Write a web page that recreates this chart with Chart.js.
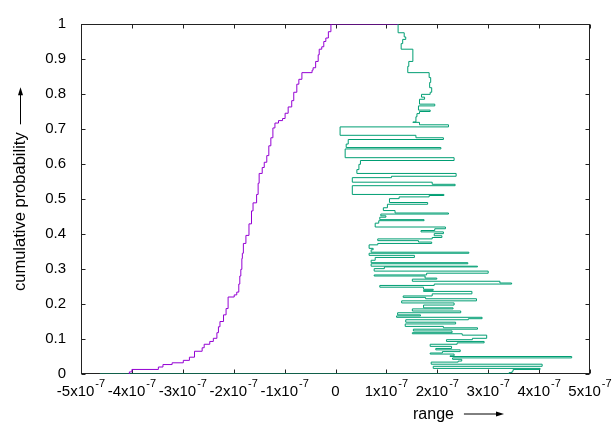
<!DOCTYPE html>
<html>
<head>
<meta charset="utf-8">
<script src="https://cdn.jsdelivr.net/npm/chart.js@4.4.1/dist/chart.umd.min.js"></script>
<style>
  body { margin: 0; background: #fff; }
</style>
</head>
<body>
<canvas id="myChart" width="612" height="428"></canvas>
<script>
// x values are in units of 1e-7
let purpleX = [-4.05, -4.05, -4.00, -3.48, -3.39, -3.21, -2.99, -2.87, -2.77, -2.62, -2.58, -2.47, -2.40, -2.33, -2.30, -2.27,
  -2.20, -2.15, -2.11, -1.99, -1.94, -1.90, -1.88, -1.86, -1.84, -1.83, -1.81, -1.76, -1.70, -1.65, -1.62, -1.55, -1.52,
  -1.50, -1.44, -1.40, -1.35, -1.31, -1.27, -1.23, -1.19, -1.12, -1.04, -0.99, -0.93, -0.86, -0.82, -0.76, -0.72, -0.66,
  -0.46, -0.44, -0.39, -0.34, -0.32, -0.27, -0.23, -0.19, -0.14, -0.09, 1.23];
let purpleY = [0, 0.006, 0.013, 0.020, 0.027, 0.032, 0.039, 0.048, 0.065, 0.075, 0.085, 0.093, 0.102, 0.118, 0.135, 0.150,
  0.169, 0.187, 0.220, 0.226, 0.234, 0.257, 0.280, 0.299, 0.330, 0.345, 0.373, 0.396, 0.429, 0.466, 0.489, 0.513, 0.545,
  0.573, 0.590, 0.605, 0.624, 0.652, 0.675, 0.703, 0.717, 0.724, 0.730, 0.745, 0.763, 0.781, 0.805, 0.828, 0.842, 0.861,
  0.868, 0.875, 0.893, 0.912, 0.928, 0.935, 0.950, 0.960, 0.978, 1.0, 1.0];

let greenX = [-4.63, 3.41, 3.47, 3.49, 4.02, 1.92, 4.06, 1.88, 2.41, 2.48, 2.30, 4.64, 2.25, 2.33, 1.86, 2.10, 2.45, 1.97,
  2.28, 1.86, 2.39, 2.92, 2.18, 2.69, 2.97, 2.49, 1.51, 2.29, 1.53, 2.79, 2.12, 1.37, 2.36, 1.38, 2.61, 2.88, 1.20, 1.67,
  1.22, 2.46, 1.51, 2.31, 1.73, 2.33, 1.30, 2.77, 1.77, 1.33, 1.90, 2.68, 1.73, 1.92, 1.73, 0.87, 1.94, 3.46, 3.23, 1.51,
  1.99, 1.76, 0.76, 1.79, 3.00, 0.76, 0.96, 2.79, 0.70, 2.60, 0.70, 0.78, 1.55, 0.66, 2.62, 0.70, 0.74, 0.66, 0.83, 1.89,
  1.63, 0.83, 1.90, 2.09, 1.94, 2.12, 1.68, 1.95, 2.16, 0.78, 0.85, 1.74, 0.87, 0.99, 0.89, 2.22, 1.17, 0.94, 1.02, 1.81,
  1.06, 1.25, 1.84, 2.13, 0.33, 2.35, 1.90, 0.33, 1.10, 2.37, 0.42, 0.46, 0.49, 2.33, 0.19, 2.07, 0.21, 0.25, 2.12, 1.58,
  0.09, 2.22, 1.65, 1.52, 1.58, 1.60, 1.65, 1.86, 1.63, 1.95, 1.65, 1.75, 1.69, 1.86, 1.89, 1.85, 1.87, 1.84, 1.42, 1.44,
  1.52, 1.29, 1.32, 1.38, 1.35, 1.23];
let greenY = [0, 0.004, 0.008, 0.013, 0.016, 0.022, 0.028, 0.034, 0.037, 0.042, 0.046, 0.050, 0.052, 0.057, 0.060, 0.064,
  0.069, 0.073, 0.079, 0.085, 0.089, 0.093, 0.098, 0.102, 0.111, 0.115, 0.118, 0.123, 0.128, 0.132, 0.136, 0.143, 0.148,
  0.155, 0.158, 0.162, 0.166, 0.169, 0.175, 0.180, 0.186, 0.189, 0.197, 0.203, 0.209, 0.215, 0.219, 0.223, 0.229, 0.236,
  0.239, 0.242, 0.248, 0.253, 0.257, 0.260, 0.265, 0.271, 0.274, 0.280, 0.283, 0.288, 0.294, 0.301, 0.306, 0.308, 0.315,
  0.318, 0.325, 0.333, 0.339, 0.345, 0.348, 0.355, 0.359, 0.369, 0.373, 0.377, 0.381, 0.386, 0.390, 0.395, 0.401, 0.406,
  0.410, 0.415, 0.420, 0.431, 0.438, 0.441, 0.448, 0.452, 0.457, 0.460, 0.467, 0.475, 0.485, 0.490, 0.501, 0.506, 0.510,
  0.513, 0.538, 0.542, 0.548, 0.561, 0.565, 0.573, 0.584, 0.599, 0.610, 0.618, 0.643, 0.647, 0.657, 0.670, 0.675, 0.682,
  0.706, 0.712, 0.719, 0.720, 0.735, 0.744, 0.750, 0.754, 0.766, 0.771, 0.785, 0.791, 0.799, 0.805, 0.818, 0.833, 0.847,
  0.861, 0.879, 0.893, 0.928, 0.944, 0.956, 0.963, 0.975, 1.0];

let xTickExp = '-7';
let yTitle = 'cumulative probability';
let xTitle = 'range';

const FONT = '"Liberation Sans", Arial, sans-serif';

let pts = (xs, ys) => xs.map((v, i) => ({x: v, y: ys[i]}));

function arrow(ctx, x1, y1, x2, y2) {
  let a = Math.atan2(y2 - y1, x2 - x1);
  ctx.beginPath();
  ctx.moveTo(x1, y1);
  ctx.lineTo(x2 - 6 * Math.cos(a), y2 - 6 * Math.sin(a));
  ctx.stroke();
  ctx.beginPath();
  ctx.moveTo(x2, y2);
  ctx.lineTo(x2 - 8 * Math.cos(a) + 2.5 * Math.sin(a), y2 - 8 * Math.sin(a) - 2.5 * Math.cos(a));
  ctx.lineTo(x2 - 8 * Math.cos(a) - 2.5 * Math.sin(a), y2 - 8 * Math.sin(a) + 2.5 * Math.cos(a));
  ctx.closePath();
  ctx.fill();
}

// frame and inward tics, gnuplot style
let framePlugin = {
  id: 'frame',
  beforeDatasetsDraw(chart) {
    let {ctx, chartArea: a, scales: {x, y}} = chart;
    let L = Math.round(a.left) + 0.5, R = Math.round(a.right) - 0.5;
    let T = Math.round(a.top) + 0.5, B = Math.round(a.bottom) - 0.5;
    ctx.save();
    ctx.strokeStyle = '#222';
    ctx.lineWidth = 1;
    ctx.strokeRect(L, T, R - L, B - T);
    ctx.beginPath();
    x.ticks.forEach(t => {
      let px = Math.round(x.getPixelForValue(t.value)) + 0.5;
      ctx.moveTo(px, B); ctx.lineTo(px, B - 4);
      ctx.moveTo(px, T); ctx.lineTo(px, T + 4);
    });
    y.ticks.forEach(t => {
      let py = Math.round(y.getPixelForValue(t.value)) + 0.5;
      ctx.moveTo(L, py); ctx.lineTo(L + 4, py);
      ctx.moveTo(R, py); ctx.lineTo(R - 4, py);
    });
    ctx.stroke();
    ctx.restore();
  },
  afterDraw(chart) {
    let {ctx, scales: {x}} = chart;
    ctx.save();
    ctx.fillStyle = '#000';
    ctx.strokeStyle = '#000';
    ctx.textBaseline = 'alphabetic';
    ctx.textAlign = 'left';
    x.ticks.forEach(t => {
      let px = x.getPixelForValue(t.value);
      let main = t.value === 0 ? '0' : t.value + 'x10';
      let sup = t.value === 0 ? '' : xTickExp;
      ctx.font = '15px ' + FONT;
      let mw = ctx.measureText(main).width;
      ctx.font = '11px ' + FONT;
      let sw = sup ? ctx.measureText(sup).width + 1 : 0;
      let x0 = px - (mw + sw) / 2;
      ctx.font = '15px ' + FONT;
      ctx.fillText(main, x0, 396);
      if (sup) {
        ctx.font = '11px ' + FONT;
        ctx.fillText(sup, x0 + mw + 1, 386.5);
      }
    });
    // axis titles with arrows
    ctx.font = '16px ' + FONT;
    ctx.lineWidth = 1;
    let w = ctx.measureText(xTitle).width;
    ctx.fillText(xTitle, 413, 419);
    arrow(ctx, 413 + w + 10, 414, 504, 414);

    ctx.font = '16.5px ' + FONT;
    ctx.translate(20, 291);
    ctx.rotate(-Math.PI / 2);
    ctx.textBaseline = 'middle';
    let wy = ctx.measureText(yTitle).width;
    ctx.fillText(yTitle, 0, 0);
    arrow(ctx, wy + 8, 0.5, wy + 45, 0.5);
    ctx.restore();
  }
};

let ctx = document.getElementById('myChart');
document.myChart = new Chart(ctx, {
  type: 'line',
  data: {
    datasets: [{
      data: pts(purpleX, purpleY),
      borderColor: '#9400d3',
      borderWidth: 1,
      pointRadius: 0,
      stepped: true,
      fill: false
    }, {
      data: pts(greenX, greenY),
      borderColor: '#009e73',
      borderWidth: 1,
      pointRadius: 0,
      stepped: true,
      fill: false
    }]
  },
  options: {
    responsive: false,
    devicePixelRatio: 1,
    animation: false,
    layout: { padding: { top: 15, right: 22, left: 0, bottom: 0 } },
    scales: {
      x: {
        type: 'linear',
        min: -5,
        max: 5,
        ticks: { stepSize: 1, display: false },
        grid: { display: false },
        border: { display: false },
        afterFit: s => { s.height = 54; }
      },
      y: {
        min: 0,
        max: 1,
        ticks: {
          stepSize: 0.1,
          padding: 15,
          color: '#000',
          font: { family: FONT, size: 15 },
          callback: v => String(Math.round(v * 10) / 10)
        },
        grid: { display: false, drawTicks: false },
        border: { display: false },
        afterFit: s => { s.width = 81; }
      }
    },
    plugins: {
      legend: { display: false },
      tooltip: { enabled: false }
    }
  },
  plugins: [framePlugin]
});
</script>
</body>
</html>
